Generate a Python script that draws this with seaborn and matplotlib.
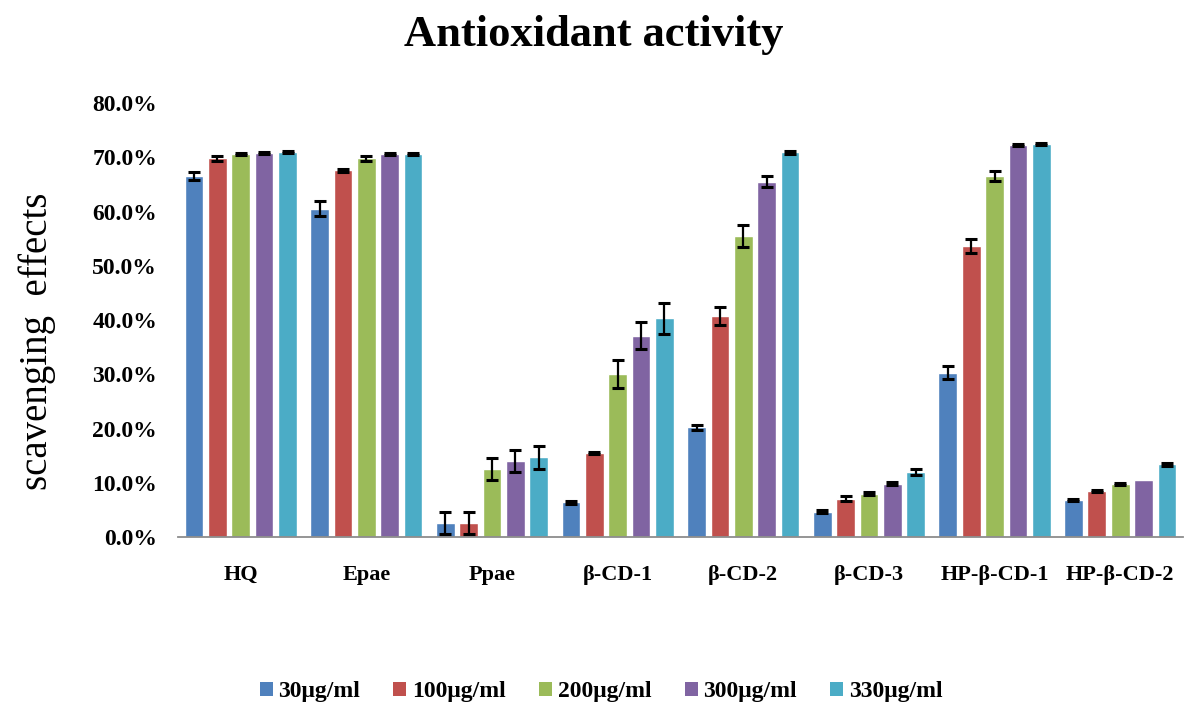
import matplotlib
matplotlib.use("Agg")
import matplotlib.pyplot as plt
from matplotlib.ticker import PercentFormatter
from matplotlib.patches import Patch
import seaborn as sns
import pandas as pd

# Samples and concentrations
samples = ["HQ", "Epae", "Ppae", "β-CD-1", "β-CD-2", "β-CD-3", "HP-β-CD-1", "HP-β-CD-2"]
concentrations = ["30μg/ml", "100μg/ml", "200μg/ml", "300μg/ml", "330μg/ml"]

# Scavenging effect (%) for each concentration, ordered as in `samples`
c30 = [66.5, 60.5, 2.6, 6.4, 20.2, 4.7, 30.3, 6.8]
c100 = [69.8, 67.6, 2.6, 15.5, 40.7, 7.1, 53.7, 8.5]
c200 = [70.6, 69.8, 12.5, 30.0, 55.5, 8.0, 66.6, 9.7]
c300 = [70.8, 70.6, 14.0, 37.1, 65.5, 9.8, 72.2, 10.6]
c330 = [71.0, 70.6, 14.7, 40.3, 70.9, 12.0, 72.5, 13.4]

# Standard deviations (%)
e30 = [0.7, 1.4, 2.1, 0.3, 0.5, 0.2, 1.2, 0.2]
e100 = [0.4, 0.3, 2.0, 0.2, 1.7, 0.5, 1.3, 0.2]
e200 = [0.2, 0.45, 2.0, 2.6, 2.0, 0.3, 0.9, 0.2]
e300 = [0.2, 0.2, 2.1, 2.5, 1.0, 0.3, 0.2, 0.0]
e330 = [0.2, 0.2, 2.1, 2.9, 0.3, 0.5, 0.2, 0.3]

values = [c30, c100, c200, c300, c330]
errors = [e30, e100, e200, e300, e330]
colors = ["#4F81BD", "#C0504D", "#9BBB59", "#8064A2", "#4BACC6"]

rows = []
for conc, vals in zip(concentrations, values):
    for s, v in zip(samples, vals):
        rows.append({"sample": s, "conc": conc, "value": v / 100.0})
df = pd.DataFrame(rows)

sns.set_style("white")
plt.rcParams["font.family"] = ["Liberation Serif", "DejaVu Serif"]
plt.rcParams["text.color"] = "black"
plt.rcParams["axes.labelcolor"] = "black"
plt.rcParams["xtick.color"] = "black"
plt.rcParams["ytick.color"] = "black"

fig = plt.figure(figsize=(11.88, 7.08), dpi=100)
ax = fig.add_axes([0.1498, 0.2415, 0.8460, 0.6130])

sns.barplot(data=df, x="sample", y="value", hue="conc", order=samples,
            hue_order=concentrations, palette=colors, saturation=1,
            width=0.93, gap=0.2, errorbar=None, ax=ax, legend=False)

# Error bars on top of each bar
for container, errs in zip(ax.containers, errors):
    for bar, e in zip(container, errs):
        if e <= 0:
            continue
        x = bar.get_x() + bar.get_width() / 2
        ax.errorbar(x, bar.get_height(), yerr=e / 100.0, fmt="none",
                    ecolor="black", elinewidth=1.6, capsize=4.5, capthick=2.2,
                    zorder=5)

ax.set_xlim(-0.5, len(samples) - 0.5)
ax.set_ylim(0, 0.8)
ax.set_yticks([i / 10 for i in range(9)])
ax.yaxis.set_major_formatter(PercentFormatter(xmax=1, decimals=1))
ax.set_xlabel("")
ax.set_ylabel("")

for side in ["top", "right", "left"]:
    ax.spines[side].set_visible(False)
ax.spines["bottom"].set_color("#8c8c8c")
ax.spines["bottom"].set_linewidth(1.3)

ax.tick_params(axis="y", length=0, pad=15, labelsize=17, labelcolor="black")
ax.tick_params(axis="x", length=0, pad=20, labelsize=16, labelcolor="black")
for lbl in ax.get_yticklabels() + ax.get_xticklabels():
    lbl.set_fontweight("bold")

fig.text(0.5, 0.95, "Antioxidant activity", ha="center", va="center",
         fontsize=32, fontweight="bold", color="black")
fig.text(0.031, 0.518, "scavenging  effects", ha="center", va="center",
         rotation=90, fontsize=28, color="black")

handles = [Patch(facecolor=c, edgecolor="none") for c in colors]
fig.legend(handles, concentrations, loc="center", bbox_to_anchor=(0.506, 0.023),
           ncol=5, frameon=False, handlelength=0.55, handleheight=0.55,
           handletextpad=0.25, columnspacing=1.4,
           prop={"size": 17, "weight": "bold"}, labelcolor="black")

fig.savefig("out.png", dpi=100, facecolor="white")
